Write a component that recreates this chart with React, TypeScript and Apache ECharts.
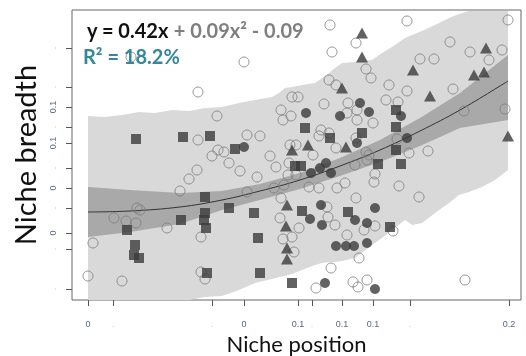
import React, { useEffect, useRef } from 'react';
import * as echarts from 'echarts';

// Axis ticks (positions in plot units) and their printed labels ('' = faint dot)
const xTickValues = [1.6, 4.1, 14.0, 17.2, 22.6, 24.0, 27.0, 30.1, 33.8, 43.7];
const xTickLabels = ['0', '', '', '0', '0.1', '', '0.1', '0.1', '', '0.2'];
const yTickValues = [1.1, 5.1, 6.7, 9.2, 11.2, 13.2, 15.7, 17.3, 19.3, 21.3, 25.2];
const yTickLabels = ['', '', '0', '', '0', '', '0.1', '', '0.1', '', ''];

// Fitted curve
const fitX = [1.6, 5.8, 10.8, 15.0, 18.8, 22.8, 26.8, 30.8, 34.8, 38.8, 43.6];
const fitY = [8.8, 8.9, 9.3, 10.0, 10.9, 12.0, 13.4, 15.0, 16.9, 19.0, 21.9];

// Confidence band (dark)
const ciX = [1.6, 5.8, 10.8, 15.0, 18.8, 22.8, 26.8, 30.8, 34.8, 38.8, 43.6];
const ciLow = [6.3, 6.8, 7.6, 9.0, 10.0, 11.1, 12.4, 13.8, 15.4, 17.2, 18.0];
const ciHigh = [11.3, 11.0, 10.7, 10.9, 11.6, 12.7, 14.2, 16.0, 18.2, 20.7, 24.5];

// Prediction band (light)
const pbX = [1.6, 3.3, 5.0, 6.7, 8.3, 10.0, 11.7, 13.3, 15.0, 16.7, 18.3, 20.0, 20.7, 21.3, 22.0, 23.0, 24.3, 25.0, 25.7, 26.3, 27.0, 28.3, 30.0, 31.0, 32.0, 33.3, 34.0, 35.0, 36.7, 37.7, 38.7, 39.7, 41.0, 42.3, 43.6];
const pbHigh = [18.4, 18.3, 18.5, 18.8, 18.7, 19.0, 18.9, 19.2, 19.3, 19.7, 20.0, 20.3, 20.7, 21.2, 21.3, 21.5, 21.7, 22.2, 22.7, 23.2, 23.7, 23.8, 24.0, 24.7, 25.3, 26.2, 26.5, 26.9, 27.7, 28.2, 28.6, 28.9, 28.9, 28.9, 28.9];
const pbLow = [0, 0, 0, 0, 0, 0, 0, 0.3, 0.4, 1.0, 1.7, 2.1, 2.3, 2.4, 2.6, 3.0, 3.5, 3.7, 3.8, 3.8, 3.9, 4.2, 5.5, 6.2, 7.0, 8.0, 7.5, 7.7, 9.0, 9.7, 10.5, 10.8, 11.3, 12.0, 13.0];

// Points: [position, breadth]
const openCircles: [number, number][] = [
  [5.9, 24.3], [12.6, 20.8], [14.5, 18.4], [17.2, 23.8], [25.8, 27.5], [33.5, 27.9], [43.6, 28.0],
  [28.4, 25.7], [26.0, 24.8], [37.8, 25.8], [39.8, 24.8], [43.0, 25.0], [41.7, 24.0], [34.8, 24.1],
  [36.2, 24.1], [29.4, 23.1], [29.9, 22.2], [25.7, 22.0], [26.4, 21.5], [31.7, 21.5], [33.5, 20.9],
  [38.1, 21.1], [22.0, 20.3], [22.6, 20.3], [25.2, 19.6], [20.9, 19.0], [21.9, 18.4], [27.6, 19.7],
  [28.5, 19.0], [27.5, 18.7], [31.4, 20.0], [32.6, 19.8], [39.2, 18.9], [43.3, 19.1], [24.9, 17.0],
  [25.7, 16.7], [24.7, 16.4], [28.5, 18.0], [30.1, 17.7], [32.5, 16.1], [33.7, 14.7], [35.6, 14.9],
  [17.5, 16.5], [18.8, 16.4], [12.6, 16.0], [14.6, 15.0], [14.0, 14.4], [15.2, 14.8], [15.7, 13.7],
  [16.8, 12.9], [18.5, 12.3], [19.8, 14.4], [21.1, 18.0], [22.4, 15.5], [21.8, 15.5], [26.4, 15.2],
  [28.4, 16.2], [29.4, 14.8], [24.1, 14.5], [20.4, 13.3], [21.7, 13.7], [21.6, 12.5], [22.4, 12.5],
  [21.2, 11.5], [20.2, 11.2], [17.5, 10.8], [23.7, 11.3], [24.7, 11.2], [26.5, 11.2], [27.3, 11.7],
  [28.3, 13.5], [29.5, 14.0], [29.7, 14.5], [30.3, 12.6], [30.2, 11.8], [32.7, 11.4], [34.7, 10.3],
  [28.4, 10.2], [20.9, 10.2], [20.8, 8.2], [21.1, 6.1], [22.0, 6.3], [22.2, 4.8], [22.7, 7.2],
  [25.5, 9.3], [25.6, 8.3], [26.3, 7.5], [27.5, 6.5], [29.2, 7.0], [30.3, 7.4], [32.1, 6.9],
  [28.7, 4.2], [25.9, 3.2], [24.4, 1.2], [28.1, 1.8], [28.6, 1.3], [29.5, 2.0], [39.3, 2.0],
  [12.5, 13.0], [11.7, 12.1], [10.8, 10.9], [6.5, 9.2], [6.8, 9.0], [4.2, 8.2], [5.4, 7.9],
  [6.4, 7.7], [9.5, 7.2], [12.9, 6.3], [2.1, 5.7], [1.6, 2.4], [5.0, 1.9], [12.9, 2.8], [13.3, 2.1],
];
const filledCircles: [number, number][] = [
  [23.4, 18.7], [26.8, 18.4], [28.8, 19.7], [29.7, 18.8], [32.9, 18.4], [17.2, 15.3], [28.5, 15.7],
  [33.5, 16.2], [25.4, 13.7], [24.8, 13.2], [23.9, 12.7], [25.9, 12.7], [23.8, 8.1], [24.9, 9.5],
  [25.0, 7.5], [28.3, 8.0], [29.5, 7.7], [26.4, 5.4], [27.4, 5.4], [28.2, 5.4], [29.5, 5.7],
  [25.3, 1.7], [30.3, 1.1], [30.3, 9.2],
];
const squares: [number, number][] = [
  [6.4, 16.1], [11.1, 16.3], [13.8, 16.4], [16.3, 15.1], [23.3, 17.2], [25.8, 16.2], [29.0, 16.7],
  [32.4, 19.0], [32.4, 17.3], [32.4, 15.0], [22.3, 13.4], [22.9, 13.4], [30.6, 13.6], [32.9, 13.6],
  [13.3, 10.3], [13.3, 8.7], [13.2, 8.0], [13.4, 7.2], [10.9, 8.0], [5.5, 7.0], [6.3, 5.5],
  [6.2, 4.5], [6.7, 4.2], [13.5, 2.7], [15.7, 9.2], [18.2, 8.7], [18.6, 6.2], [18.8, 2.7],
  [22.0, 1.7], [23.0, 8.9], [27.6, 8.8], [31.8, 7.3],
];
const triangles: [number, number][] = [
  [29.0, 26.7], [29.0, 24.3], [27.0, 21.2], [34.1, 23.0], [35.8, 20.4], [40.2, 22.5], [41.2, 22.8],
  [41.4, 25.2], [43.6, 16.4], [23.6, 15.5], [27.4, 15.3], [22.0, 15.0], [21.5, 9.5], [21.4, 7.4],
  [21.5, 5.2], [21.5, 4.1],
];

const tickFmt = (vals: number[], labels: string[]) => (v: number) => {
  let idx = 0;
  let best = Infinity;
  vals.forEach((t, i) => {
    const d = Math.abs(t - v);
    if (d < best) { best = d; idx = i; }
  });
  const l = labels[idx];
  return l === '' ? '{f|.}' : l;
};

const DARK = '#3b3b3b';

const bandSeries = (name: string, xs: number[], lo: number[], hi: number[], color: string) => ({
  name, type: 'custom', silent: true, z: 1, clip: true,
  data: [[xs[0], lo[0]]],
  renderItem: (_params: any, api: any) => {
    const top = xs.map((x, i) => api.coord([x, hi[i]]));
    const bottom = xs.map((x, i) => api.coord([x, lo[i]])).reverse();
    return { type: 'polygon', shape: { points: [...top, ...bottom] }, style: { fill: color } };
  },
});

export default function App() {
  const ref = useRef<HTMLDivElement>(null);
  useEffect(() => {
    const chart = echarts.init(ref.current!, null, { renderer: 'svg' });
    chart.setOption({
      animation: false,
      grid: {
        left: 72, top: 10, width: 449, height: 290, show: true, borderColor: '#666', borderWidth: 1,
        backgroundColor: 'transparent', containLabel: false, outerBoundsMode: 'none',
      },
      xAxis: {
        type: 'value', min: 0, max: 44.9,
        name: 'Niche position', nameLocation: 'middle', nameGap: 24,
        nameTextStyle: { fontFamily: 'Lato', fontSize: 22, color: '#111', lineHeight: 22 },
        axisLine: { show: false },
        splitLine: { show: false },
        axisTick: { show: true, customValues: xTickValues, length: 6, lineStyle: { color: '#555' } },
        axisLabel: {
          customValues: xTickValues, formatter: tickFmt(xTickValues, xTickLabels), margin: 19,
          fontSize: 9, color: '#56678a', fontFamily: 'Liberation Sans',
          rich: { f: { color: '#d0d0d0', fontSize: 9 } },
        },
      },
      yAxis: {
        type: 'value', min: 0, max: 29,
        name: 'Niche breadth', nameLocation: 'middle', nameGap: 33, nameRotate: 90,
        nameTextStyle: { fontFamily: 'Lato', fontSize: 29, color: '#111' },
        axisLine: { show: false },
        splitLine: { show: false },
        axisTick: { show: true, customValues: yTickValues, length: 6, lineStyle: { color: '#555' } },
        axisLabel: {
          customValues: yTickValues, formatter: tickFmt(yTickValues, yTickLabels), margin: 15, rotate: 90,
          fontSize: 9, color: '#56678a', fontFamily: 'Liberation Sans',
          rich: { f: { color: '#d0d0d0', fontSize: 9 } },
        },
      },
      graphic: [
        {
          type: 'text', left: 87, top: 20, z: 100,
          style: {
            text: '{k|y = 0.42x }{g|+ 0.09x² - 0.09}',
            rich: {
              k: { fontFamily: 'Lato', fontWeight: 'bold', fontSize: 20, fill: '#111' },
              g: { fontFamily: 'Lato', fontWeight: 'bold', fontSize: 20, fill: '#7f7f7f' },
            },
          },
        },
        {
          type: 'text', left: 83, top: 46, z: 100,
          style: { text: 'R² = 18.2%', fontFamily: 'Lato', fontWeight: 'bold', fontSize: 20, fill: '#35889b' },
        },
      ],
      series: [
        bandSeries('pb', pbX, pbLow, pbHigh, '#d9d9d9'),
        bandSeries('ci', ciX, ciLow, ciHigh, '#a9a9a9'),
        {
          name: 'fit', type: 'line', data: fitX.map((x, i) => [x, fitY[i]]), symbol: 'none', smooth: 0.4,
          lineStyle: { color: '#333', width: 1 }, z: 2, silent: true,
        },
        {
          name: 'open', type: 'scatter', data: openCircles, symbol: 'circle', symbolSize: 10, z: 3,
          itemStyle: { color: 'rgba(0,0,0,0)', borderColor: '#7a7a7a', borderWidth: 1 },
        },
        {
          name: 'square', type: 'scatter', data: squares, symbol: 'rect', symbolSize: 10, z: 4,
          itemStyle: { color: DARK },
        },
        {
          name: 'triangle', type: 'scatter', data: triangles, symbol: 'triangle', symbolSize: [12, 11], z: 4,
          itemStyle: { color: DARK },
        },
        {
          name: 'filled', type: 'scatter', data: filledCircles, symbol: 'circle', symbolSize: 10, z: 4,
          itemStyle: { color: DARK },
        },
      ],
    });
    return () => chart.dispose();
  }, []);
  return <div ref={ref} style={{ position: 'fixed', left: 0, top: 0, width: 526, height: 356 }} />;
}
